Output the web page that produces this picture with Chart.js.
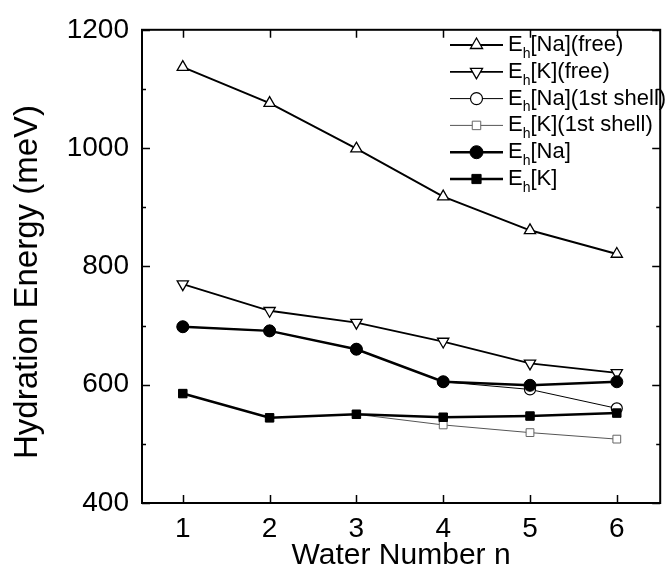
<!DOCTYPE html>
<html>
<head>
<meta charset="utf-8">
<script src="https://cdn.jsdelivr.net/npm/chart.js@4.4.0/dist/chart.umd.min.js"></script>
<style>
  html, body { margin: 0; padding: 0; background: #fff; }
  #wrap { width: 668px; height: 571px; position: relative; }
</style>
</head>
<body>
<div id="wrap"><canvas id="grafico"></canvas></div>
<script>
// dados
const waterN = [1, 2, 3, 4, 5, 6];
const naFree = [1137, 1076, 999, 918, 861, 821];
const kFree = [770, 725, 705, 673, 636, 620];
const na1st = [698, 691, 660, 605, 592, 560];
const k1st = [585, 544, 550, 532, 519, 508];
const naTotal = [698, 691, 660, 605, 599, 605];
const kTotal = [585, 544, 550, 545, 547, 552];

const seriesLabels = ['E_h[Na](free)', 'E_h[K](free)', 'E_h[Na](1st shell)', 'E_h[K](1st shell)', 'E_h[Na]', 'E_h[K]'];
const yTicks = [400, 600, 800, 1000, 1200];
const yMinor = [500, 700, 900, 1100];
const yTitulo = 'Hydration Energy (meV)';

function pts(vals) {
    return waterN.map((n, i) => ({ x: n, y: vals[i] }));
}

const fonte = "'Liberation Sans', Arial, Helvetica, sans-serif";

const datasets = [
    { label: seriesLabels[0], data: pts(naFree), borderColor: '#000', borderWidth: 2,
      pointStyle: 'triangle', pointRadius: 6.5, pointBackgroundColor: '#fff', pointBorderColor: '#000', pointBorderWidth: 1.3, order: 2 },
    { label: seriesLabels[1], data: pts(kFree), borderColor: '#000', borderWidth: 1.8,
      pointStyle: 'triangle', pointRotation: 180, pointRadius: 6.5, pointBackgroundColor: '#fff', pointBorderColor: '#000', pointBorderWidth: 1.3, order: 2 },
    { label: seriesLabels[2], data: pts(na1st), borderColor: '#000', borderWidth: 1,
      pointStyle: 'circle', pointRadius: 5.5, pointBackgroundColor: '#fff', pointBorderColor: '#000', pointBorderWidth: 1.2, order: 3 },
    { label: seriesLabels[3], data: pts(k1st), borderColor: '#555', borderWidth: 1,
      pointStyle: 'rect', pointRadius: 5.5, pointBackgroundColor: '#fff', pointBorderColor: '#666', pointBorderWidth: 1, order: 3 },
    { label: seriesLabels[4], data: pts(naTotal), borderColor: '#000', borderWidth: 2.5,
      pointStyle: 'circle', pointRadius: 6, pointBackgroundColor: '#000', pointBorderColor: '#000', pointBorderWidth: 1, order: 1 },
    { label: seriesLabels[5], data: pts(kTotal), borderColor: '#000', borderWidth: 2.5,
      pointStyle: 'rect', pointRadius: 6, pointBackgroundColor: '#000', pointBorderColor: '#000', pointBorderWidth: 1, order: 1 }
];

// moldura, ticks para dentro e titulo do eixo y
const molduraPlugin = {
    id: 'moldura',
    afterDraw(chart) {
        const ctx = chart.ctx;
        const a = chart.chartArea;
        const xs = chart.scales.x, ys = chart.scales.y;
        ctx.save();
        ctx.strokeStyle = '#000';
        ctx.lineWidth = 2;
        ctx.strokeRect(a.left, a.top, a.right - a.left, a.bottom - a.top);
        ctx.lineWidth = 1.5;
        ctx.beginPath();
        waterN.forEach(n => {
            const px = Math.round(xs.getPixelForValue(n)) + 0.5;
            ctx.moveTo(px, a.bottom); ctx.lineTo(px, a.bottom - 8);
            ctx.moveTo(px, a.top); ctx.lineTo(px, a.top + 8);
        });
        yTicks.forEach(v => {
            const py = Math.round(ys.getPixelForValue(v)) + 0.5;
            ctx.moveTo(a.left, py); ctx.lineTo(a.left + 8, py);
            ctx.moveTo(a.right, py); ctx.lineTo(a.right - 8, py);
        });
        yMinor.forEach(v => {
            const py = Math.round(ys.getPixelForValue(v)) + 0.5;
            ctx.moveTo(a.left, py); ctx.lineTo(a.left + 4, py);
            ctx.moveTo(a.right, py); ctx.lineTo(a.right - 4, py);
        });
        ctx.stroke();

        ctx.translate(28, 282);
        ctx.rotate(-Math.PI / 2);
        ctx.fillStyle = '#000';
        ctx.font = '33px ' + fonte;
        ctx.textAlign = 'center';
        ctx.textBaseline = 'middle';
        ctx.fillText(yTitulo, 0, 0);
        ctx.restore();
    }
};

// legenda com subscrito
const legendaPlugin = {
    id: 'legenda',
    afterDraw(chart) {
        const ctx = chart.ctx;
        const x0 = 450, x1 = 503, xm = 476.5, y0 = 45, dy = 26.8;
        ctx.save();
        chart.data.datasets.forEach((ds, i) => {
            const y = y0 + i * dy;
            ctx.strokeStyle = ds.borderColor;
            ctx.lineWidth = ds.borderWidth;
            ctx.beginPath();
            ctx.moveTo(x0, y); ctx.lineTo(x1, y);
            ctx.stroke();
            ctx.fillStyle = ds.pointBackgroundColor;
            ctx.strokeStyle = ds.pointBorderColor;
            ctx.lineWidth = ds.pointBorderWidth;
            Chart.helpers.drawPoint(ctx, {
                pointStyle: ds.pointStyle,
                radius: ds.pointRadius + 0.5,
                rotation: ds.pointRotation || 0,
                borderWidth: ds.pointBorderWidth
            }, xm, y);
            const partes = ds.label.split('_h');
            ctx.fillStyle = '#000';
            ctx.textBaseline = 'middle';
            ctx.textAlign = 'left';
            ctx.font = '22px ' + fonte;
            let tx = 508;
            ctx.fillText('E', tx, y);
            tx += ctx.measureText('E').width;
            ctx.font = '14px ' + fonte;
            ctx.fillText('h', tx, y + 9);
            tx += ctx.measureText('h').width;
            ctx.font = '22px ' + fonte;
            ctx.fillText(partes[1], tx, y);
        });
        ctx.restore();
    }
};

const ctx = document.getElementById('grafico').getContext('2d');
new Chart(ctx, {
    type: 'line',
    data: { datasets: datasets },
    options: {
        responsive: true,
        maintainAspectRatio: false,
        animation: false,
        layout: { padding: { left: 0, top: 25, right: 6, bottom: 0 } },
        plugins: {
            legend: { display: false },
            tooltip: { enabled: false }
        },
        scales: {
            x: {
                type: 'linear',
                min: 0.53,
                max: 6.5,
                afterBuildTicks: scale => { scale.ticks = waterN.map(v => ({ value: v })); },
                afterFit: scale => { scale.height = 68; },
                grid: { display: false, drawTicks: false },
                border: { display: false },
                ticks: { color: '#000', padding: 9, font: { family: fonte, size: 28 }, callback: v => String(v) },
                title: {
                    display: true,
                    text: 'Water Number n',
                    color: '#000',
                    font: { family: fonte, size: 30, lineHeight: 1.0 },
                    padding: { top: 0, bottom: 0 }
                }
            },
            y: {
                min: 400,
                max: 1200,
                afterBuildTicks: scale => { scale.ticks = yTicks.map(v => ({ value: v })); },
                afterFit: scale => { scale.width = 142; },
                grid: { display: false, drawTicks: false },
                border: { display: false },
                ticks: { color: '#000', padding: 13, font: { family: fonte, size: 28 }, callback: v => String(v) }
            }
        }
    },
    plugins: [molduraPlugin, legendaPlugin]
});
</script>
</body>
</html>
